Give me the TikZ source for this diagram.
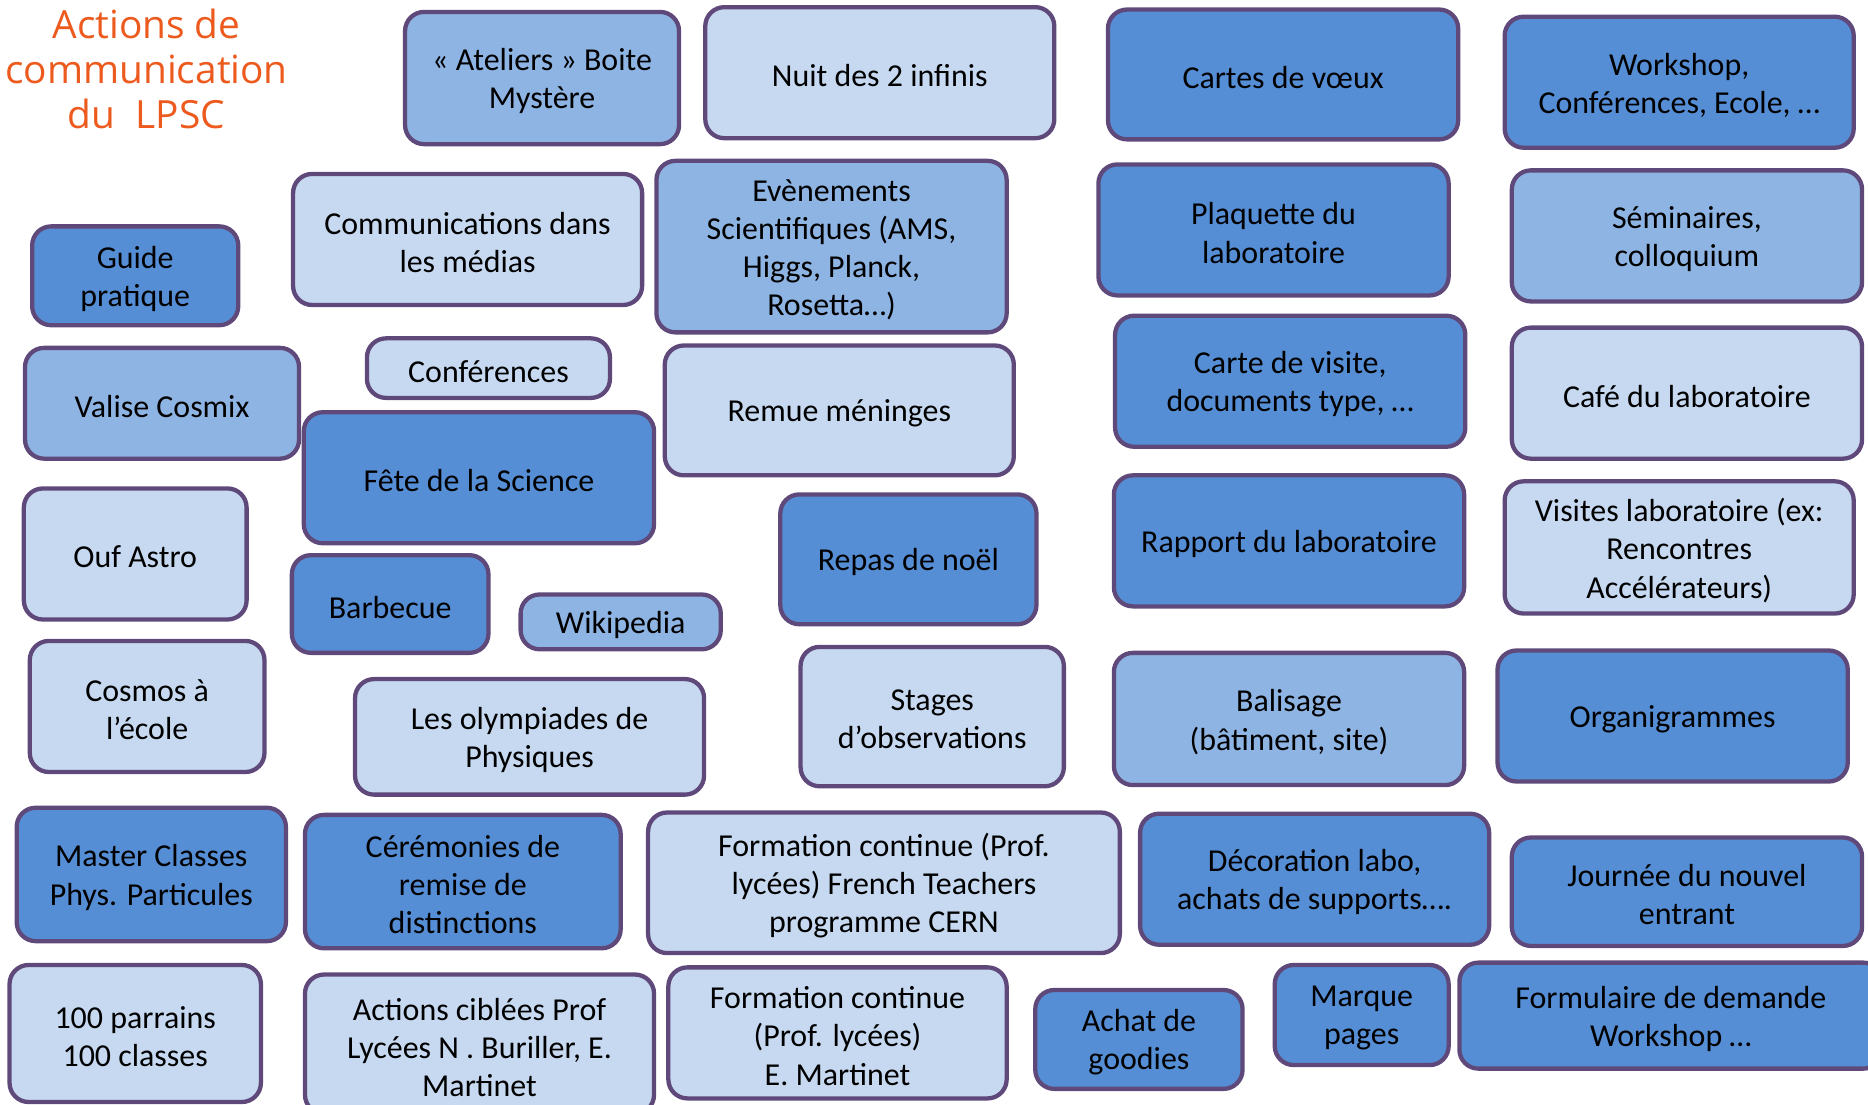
\documentclass[tikz,border=0pt]{standalone}
\usepackage{fontspec}
\setmainfont{Carlito}
\newfontfamily\titlefont{Open Sans}
\definecolor{dk}{RGB}{85,142,213}
\definecolor{md}{RGB}{142,180,227}
\definecolor{lt}{RGB}{198,217,241}
\definecolor{bord}{RGB}{95,73,122}
\definecolor{orng}{RGB}{236,90,30}
\tikzset{
  box/.style={draw=bord, line width=1.8pt, rounded corners=8pt, inner sep=0pt},
  boxtext/.style={align=center, inner sep=0pt, font=\fontsize{13.4}{16}\selectfont, text=black, yshift=-1.3pt},
}
\newcommand\bx[7]{\node[box,fill=#6,minimum width={(#4-#2)*0.5pt},minimum height={(#5-#3)*0.5pt}] (#1) at ({(#2+#4)/2},{(#3+#5)/2}) {};
\node[boxtext] (#1-t) at (#1.center) {#7};}
\begin{document}
\begin{tikzpicture}[x=0.5pt,y=-0.5pt]
\useasboundingbox (0,0) rectangle (1568,927);
\node[align=center, text=orng, font=\titlefont\fontsize{16.3}{19}\selectfont] (title) at (123,58) {Actions de\\communication\\du\ \ LPSC};
% column A
\bx{guide}{27}{190}{200}{273}{dk}{Guide\\pratique}
\bx{valise}{21}{292}{251}{385}{md}{Valise Cosmix}
\bx{ouf}{20}{410}{207}{520}{lt}{Ouf Astro}
\bx{cosmos}{25}{538}{222}{648}{lt}{Cosmos à\\l’école}
\bx{master}{14}{678}{240}{790}{dk}{Master Classes\\Phys. Particules}
\bx{parrains}{8}{810}{219}{925}{lt}{100 parrains\\100 classes}
% column B
\bx{ateliers}{340}{10}{570}{121}{md}{« Ateliers » Boite\\Mystère}
\bx{medias}{246}{146}{539}{256}{lt}{Communications dans\\les médias}
\bx{conf}{308}{284}{512}{334}{lt}{Conférences}
\bx{fete}{255}{346}{549}{456}{dk}{Fête de la Science}
\bx{barbecue}{245}{466}{410}{548}{dk}{Barbecue}
\bx{wiki}{437}{499}{605}{545}{md}{Wikipedia}
\bx{olymp}{298}{570}{591}{667}{lt}{Les olympiades de\\Physiques}
\bx{ceremon}{256}{684}{521}{796}{dk}{Cérémonies de\\remise de\\distinctions}
\bx{actions}{256}{818}{549}{935}{lt}{Actions ciblées Prof\\Lycées N . Buriller, E.\\Martinet}
% column C
\bx{nuit}{592}{6}{885}{116}{lt}{Nuit des 2 infinis}
\bx{evts}{551}{135}{845}{279}{md}{Evènements\\Scientifiques (AMS,\\Higgs, Planck,\\Rosetta…)}
\bx{remue}{558}{290}{851}{399}{lt}{Remue méninges}
\bx{repas}{655}{415}{870}{524}{dk}{Repas de noël}
\bx{stages}{672}{543}{893}{660}{lt}{Stages\\d’observations}
\bx{formA}{544}{682}{940}{800}{lt}{Formation continue (Prof.\\lycées) French Teachers\\programme CERN}
\bx{formB}{561}{812}{845}{922}{lt}{Formation continue\\(Prof. lycées)\\E. Martinet}
\bx{goodies}{869}{831}{1043}{914}{dk}{Achat de\\goodies}
% column D
\bx{voeux}{930}{8}{1224}{117}{dk}{Cartes de vœux}
\bx{plaquette}{922}{138}{1216}{248}{dk}{Plaquette du\\laboratoire}
\bx{visite}{936}{265}{1230}{375}{dk}{Carte de visite,\\documents type, …}
\bx{rapport}{935}{399}{1229}{509}{dk}{Rapport du laboratoire}
\bx{balisage}{935}{548}{1229}{659}{md}{Balisage\\(bâtiment, site)}
\bx{deco}{957}{683}{1250}{793}{dk}{Décoration labo,\\achats de supports….}
\bx{marque}{1070}{810}{1216}{894}{dk}{Marque\\pages}
% column E
\bx{workshop}{1263}{14}{1556}{124}{dk}{Workshop,\\Conférences, Ecole, …}
\bx{semin}{1269}{143}{1563}{253}{md}{Séminaires,\\colloquium}
\bx{cafe}{1269}{275}{1563}{385}{lt}{Café du laboratoire}
\bx{visites}{1263}{404}{1556}{515}{lt}{Visites laboratoire (ex:\\Rencontres\\Accélérateurs)}
\bx{organi}{1257}{546}{1551}{656}{dk}{Organigrammes}
\bx{journee}{1269}{703}{1563}{794}{dk}{Journée du nouvel\\entrant}
\bx{formul}{1225}{808}{1580}{897}{dk}{Formulaire de demande\\Workshop …}
\end{tikzpicture}
\end{document}
